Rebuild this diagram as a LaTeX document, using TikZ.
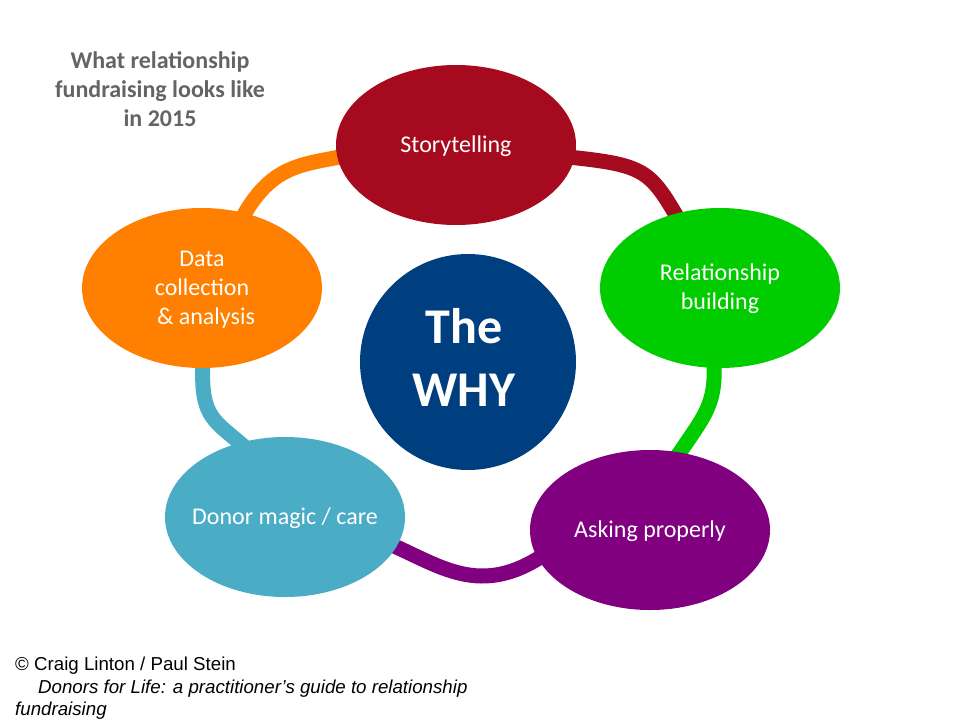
\documentclass[tikz,border=0pt]{standalone}
\usepackage{fontspec}
\setmainfont{Carlito}
\newfontfamily\arialfont{Liberation Sans}
\usetikzlibrary{shapes.geometric}
\definecolor{cred}{RGB}{165,10,30}
\definecolor{cgreen}{RGB}{0,204,0}
\definecolor{cpurple}{RGB}{128,0,128}
\definecolor{cteal}{RGB}{75,172,198}
\definecolor{corange}{RGB}{255,128,0}
\definecolor{cnavy}{RGB}{0,63,127}
\definecolor{cgray}{RGB}{100,100,100}
\begin{document}
\begin{tikzpicture}[x=1pt,y=-1pt,
  oval/.style={ellipse,minimum width=240pt,minimum height=160pt,inner sep=0pt},
  ovaltext/.style={text=white,align=center,inner sep=0pt,font=\fontsize{24}{29}\selectfont},
  link/.style={line width=15pt}]
\useasboundingbox (0,0) rectangle (960,720);
% connectors
\coordinate (o1) at (240,222);
\coordinate (o2) at (345,156);
\coordinate (r1) at (568,157);
\coordinate (r2) at (680,222);
\coordinate (g1) at (714,362);
\coordinate (g2) at (676,458);
\coordinate (t1) at (203,362);
\coordinate (t2) at (248,450);
\coordinate (p1) at (385,542);
\coordinate (p2) at (548,552);
\draw[link,corange] (o1) .. controls (270,165) and (300,165) .. (o2);
\draw[link,cred] (r1) .. controls (645,165) and (650,170) .. (r2);
\draw[link,cgreen] (g1) .. controls (716,405) and (705,415) .. (g2);
\draw[link,cteal] (t1) .. controls (200,420) and (215,420) .. (t2);
\draw[link,cpurple] (p1) .. controls (440,565) and (480,600) .. (p2);
% nodes
\node[oval,fill=cred] (story) at (456,145) {};
\node[ovaltext] (storyT) at (456,146) {Storytelling};
\node[oval,fill=cgreen] (rel) at (720,288) {};
\node[ovaltext] (relT) at (720,289) {Relationship\\building};
\node[oval,fill=cpurple] (ask) at (650,530) {};
\node[ovaltext] (askT) at (650,531) {Asking properly};
\node[oval,fill=cteal] (donor) at (285,517) {};
\node[ovaltext] (donorT) at (285,518) {Donor magic / care};
\node[oval,fill=corange] (data) at (202,288) {};
\node[ovaltext] (dataT) at (202,290) {Data\\collection\\\,\,\& analysis};
\node[circle,fill=cnavy,minimum size=216pt,inner sep=0pt] (why) at (468,362) {};
\node[text=white,align=center,font=\bfseries\fontsize{50}{63}\selectfont] (whytext) at (464,357) {The\\WHY};
% title
\node[text=cgray,align=center,font=\bfseries\fontsize{24}{29}\selectfont] (title) at (160,89) {What relationship\\fundraising looks like\\in 2015};
% footer
\node[anchor=north west,inner sep=0pt,align=left,font=\arialfont\fontsize{18.7}{22.5}\selectfont] (foot) at (15,657) {© Craig Linton / Paul Stein\\\hspace*{23pt}\itshape Donors for Life: a practitioner’s guide to relationship\\\itshape fundraising};
\end{tikzpicture}
\end{document}
